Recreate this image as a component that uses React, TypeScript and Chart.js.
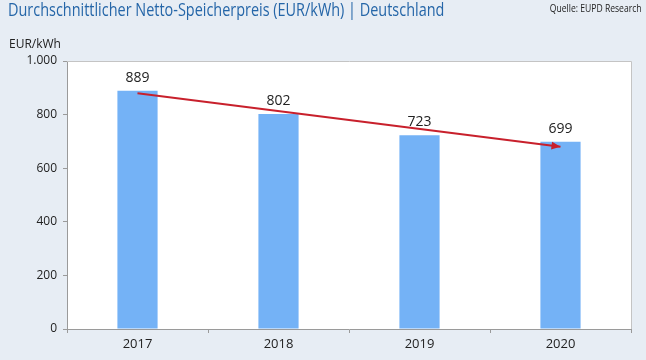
import React, { useEffect, useRef } from "react";
import { Chart, registerables } from "chart.js";

Chart.register(...registerables);

const categories = ["2017", "2018", "2019", "2020"];
const prices = [889, 802, 723, 699];
const trendValues = [880, null, null, 680];
const yTickValues = [0, 200, 400, 600, 800, 1000];
const yTickLabels = ["0", "200", "400", "600", "800", "1.000"];

const TITLE = "Durchschnittlicher Netto-Speicherpreis (EUR/kWh) | Deutschland";
const SOURCE = "Quelle: EUPD Research";
const UNIT = "EUR/kWh";

const BG = "#e7edf4";
const BAR = "#74b2f6";
const ARROW = "#c8202c";
const AXIS = "#9a9a9a";
const TEXT = "#222222";

const chartAreaPlugin = {
  id: "areaBg",
  beforeDraw(chart: any) {
    const { ctx, chartArea } = chart;
    ctx.save();
    ctx.fillStyle = "#ffffff";
    ctx.fillRect(chartArea.left, chartArea.top, chartArea.right - chartArea.left, chartArea.bottom - chartArea.top);
    ctx.restore();
  },
  afterDraw(chart: any) {
    const { ctx, chartArea } = chart;
    ctx.save();
    ctx.strokeStyle = "#c4c4c4";
    ctx.lineWidth = 1;
    ctx.beginPath();
    ctx.moveTo(chartArea.left, chartArea.top + 0.5);
    ctx.lineTo(chartArea.right + 0.5, chartArea.top + 0.5);
    ctx.lineTo(chartArea.right + 0.5, chartArea.bottom);
    ctx.stroke();
    ctx.restore();
  },
};

const labelsPlugin = {
  id: "barLabels",
  afterDatasetsDraw(chart: any) {
    const { ctx } = chart;
    const meta = chart.getDatasetMeta(0);
    ctx.save();
    ctx.fillStyle = TEXT;
    ctx.font = "14px 'Open Sans', 'Noto Sans', sans-serif";
    ctx.textAlign = "center";
    ctx.textBaseline = "bottom";
    meta.data.forEach((el: any, i: number) => {
      ctx.fillText(String(prices[i]), el.x, el.y - 6);
    });
    // arrow head on trend line
    const lm = chart.getDatasetMeta(1);
    const pts = lm.data.filter((p: any, i: number) => trendValues[i] !== null);
    if (pts.length >= 2) {
      const a = pts[pts.length - 2];
      const b = pts[pts.length - 1];
      const ang = Math.atan2(b.y - a.y, b.x - a.x);
      const len = 9;
      const w = 4;
      ctx.fillStyle = ARROW;
      ctx.beginPath();
      ctx.moveTo(b.x, b.y);
      ctx.lineTo(b.x - len * Math.cos(ang) + w * Math.sin(ang), b.y - len * Math.sin(ang) - w * Math.cos(ang));
      ctx.lineTo(b.x - len * Math.cos(ang) - w * Math.sin(ang), b.y - len * Math.sin(ang) + w * Math.cos(ang));
      ctx.closePath();
      ctx.fill();
    }
    ctx.restore();
  },
};

export default function App() {
  const ref = useRef<HTMLCanvasElement | null>(null);

  useEffect(() => {
    document.body.style.margin = "0";
    const canvas = ref.current;
    if (!canvas) return;
    const chart = new Chart(canvas, {
      type: "bar",
      data: {
        labels: categories,
        datasets: [
          {
            type: "bar",
            data: prices,
            backgroundColor: BAR,
            barPercentage: 0.57,
            categoryPercentage: 0.5,
            order: 2,
          } as any,
          {
            type: "line",
            data: trendValues,
            borderColor: ARROW,
            borderWidth: 2,
            pointRadius: 0,
            spanGaps: true,
            order: 1,
          } as any,
        ],
      },
      options: {
        responsive: false,
        animation: false,
        devicePixelRatio: 1,
        layout: { padding: { left: 0, top: 61, right: 15, bottom: 0 } },
        plugins: { legend: { display: false }, tooltip: { enabled: false } },
        scales: {
          x: {
            offset: true,
            grid: { display: true, offset: true, drawOnChartArea: false, drawTicks: true, tickLength: 4, color: AXIS },
            border: { display: true, color: AXIS },
            ticks: { color: TEXT, font: { family: "'Open Sans', 'Noto Sans', sans-serif", size: 13 }, padding: 3 },
            afterFit(scale: any) {
              scale.height = 31;
            },
          },
          y: {
            min: 0,
            max: 1000,
            afterBuildTicks(scale: any) {
              scale.ticks = yTickValues.map((v) => ({ value: v }));
            },
            grid: { display: true, drawOnChartArea: false, drawTicks: true, tickLength: 4, color: AXIS },
            border: { display: true, color: AXIS },
            ticks: {
              color: TEXT,
              font: { family: "'Open Sans', 'Noto Sans', sans-serif", size: 12 },
              padding: 6,
              callback: (v: any) => {
                const i = yTickValues.indexOf(Number(v));
                return i >= 0 ? yTickLabels[i] : "";
              },
            },
            afterFit(scale: any) {
              scale.width = 67;
            },
          },
        },
      },
      plugins: [chartAreaPlugin, labelsPlugin],
    });
    return () => chart.destroy();
  }, []);

  return (
    <div style={{ position: "relative", width: 646, height: 360, background: BG, overflow: "hidden" }}>
      <canvas ref={ref} width={646} height={360} style={{ display: "block", width: 646, height: 360 }} />
      <div
        style={{
          position: "absolute",
          left: 8,
          top: -3,
          fontFamily: "'Open Sans', 'Noto Sans', sans-serif",
          fontSize: 19,
          lineHeight: "24px",
          color: "#2566a8",
          whiteSpace: "nowrap",
          transform: "scaleX(0.76)",
          transformOrigin: "left top",
        }}
      >
        {TITLE}
      </div>
      <div
        style={{
          position: "absolute",
          right: 4,
          top: 1,
          fontFamily: "'Open Sans', 'Noto Sans', sans-serif",
          fontSize: 11,
          lineHeight: "14px",
          color: TEXT,
          whiteSpace: "nowrap",
          transform: "scaleX(0.78)",
          transformOrigin: "right top",
        }}
      >
        {SOURCE}
      </div>
      <div
        style={{
          position: "absolute",
          left: 9,
          top: 36,
          fontFamily: "'Open Sans', 'Noto Sans', sans-serif",
          fontSize: 12,
          lineHeight: "16px",
          color: TEXT,
          whiteSpace: "nowrap",
        }}
      >
        {UNIT}
      </div>
    </div>
  );
}
